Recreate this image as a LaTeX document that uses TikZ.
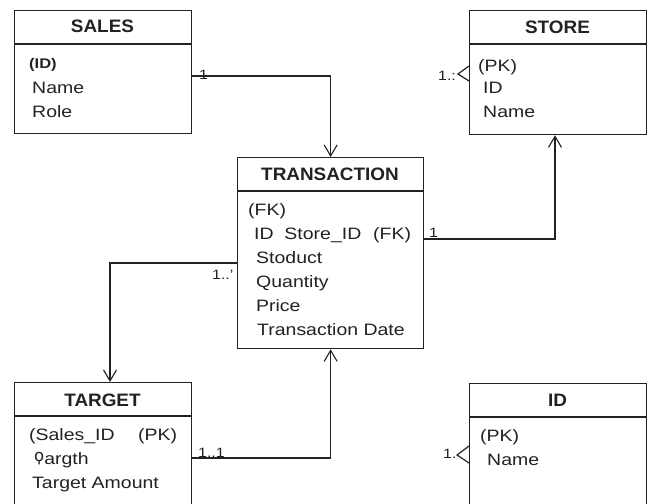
\documentclass[tikz,border=0pt]{standalone}
\usepackage{fontspec}
\setmainfont{Liberation Sans}[FakeStretch=1.18]
\newfontfamily\titlefont{Liberation Sans}[FakeStretch=1.05]
\newfontfamily\koppafont{DejaVu Sans}
\usetikzlibrary{arrows.meta}
\definecolor{ink}{HTML}{222222}
\tikzset{
  ent/.style={draw=ink, line width=1.3pt, anchor=north west, inner sep=0pt, minimum width=177pt},
  ttl/.style={font=\titlefont\fontsize{18}{18}\selectfont\bfseries, anchor=base, inner sep=0pt, text=ink},
  att/.style={font=\fontsize{16.5}{17}\selectfont, anchor=base west, inner sep=0pt, text=ink},
  keyb/.style={font=\fontsize{14}{14}\selectfont\bfseries, anchor=base west, inner sep=0pt, text=ink},
  card/.style={font=\fontsize{13.5}{14}\selectfont, anchor=base west, inner sep=0pt, text=ink},
  rel/.style={line width=1.2pt, draw=ink},
  arr/.style={rel, -{Straight Barb[length=11pt,width=13pt,line width=1.1pt]}}
}
\begin{document}
\begin{tikzpicture}[x=1pt,y=-1pt]
\useasboundingbox (0,0) rectangle (650,503);
\clip (0,0) rectangle (650,503);
\fill[white] (0,0) rectangle (650,503);

% entity boxes
\node[ent, minimum height=123pt] (sales) at (14,10) {};
\node[ent, minimum height=124pt] (store) at (469,10) {};
\node[ent, minimum width=186pt, minimum height=191pt] (trans) at (237,157) {};
\node[ent, minimum height=140pt] (target) at (14,382) {};
\node[ent, minimum height=140pt] (idb) at (469,383) {};

% header separators
\draw[rel] (sales.west |- 0,44) -- (sales.east |- 0,44);
\draw[rel] (store.west |- 0,44) -- (store.east |- 0,44);
\draw[rel] (trans.west |- 0,191) -- (trans.east |- 0,191);
\draw[rel] (target.west |- 0,416) -- (target.east |- 0,416);
\draw[rel] (idb.west |- 0,417) -- (idb.east |- 0,417);

% titles
\node[ttl] (salesT) at (102.5,33) {SALES};
\node[ttl] (storeT) at (557.5,34) {STORE};
\node[ttl] (transT) at (330,180) {TRANSACTION};
\node[ttl] (targetT) at (102.5,406) {TARGET};
\node[ttl] (idT) at (557.5,406) {ID};

% SALES attributes
\node[keyb] (s1) at (29,69) {(ID)};
\node[att] (s2) at (32,93) {Name};
\node[att] (s3) at (32,117) {Role};

% STORE attributes
\node[att] (st1) at (478,71) {(PK)};
\node[att] (st2) at (483,93) {ID};
\node[att] (st3) at (483,117) {Name};

% TRANSACTION attributes
\node[att] (t1) at (248,215) {(FK)};
\node[att] (t2) at (254,239) {ID\ \ Store\_ID};
\node[att] (t2b) at (373,239) {(FK)};
\node[att] (t3) at (256,263) {Stoduct};
\node[att] (t4) at (256,287) {Quantity};
\node[att] (t5) at (256,311) {Price};
\node[att] (t6) at (257,335) {Transaction Date};

% TARGET attributes
\node[att] (g1) at (29,440) {(Sales\_ID};
\node[att] (g1b) at (138,440) {(PK)};
\node[att] (g2) at (34,464) {{\koppafont\raisebox{0.18em}{ϙ}}argth};
\node[att] (g3) at (32,488) {Target Amount};

% ID attributes
\node[att] (i1) at (480,441) {(PK)};
\node[att] (i2) at (487,465) {Name};

% connectors
\draw[arr] (sales.east |- 0,76) -| (trans.north);
\draw[arr] (trans.east |- 0,239) -| (555,0 |- store.south);
\draw[arr] (trans.west |- 0,263) -| (110,0 |- target.north);
\draw[arr] (target.east |- 0,458) -| (trans.south);

% crow's feet
\coordinate (cfs) at (458,74);
\draw[rel] (store.west |- 0,66) -- (cfs) -- (store.west |- 0,81);
\coordinate (cfi) at (457,455);
\draw[rel] (idb.west |- 0,446) -- (cfi) -- (idb.west |- 0,463);

% cardinality labels
\node[card] (c1) at (199,79) {1};
\node[card] (c2) at (429,237) {1};
\node[card] (c3) at (212,279) {1..'};
\node[card] (c4) at (198,457) {1..1};
\node[card] (c5) at (438,80) {1.:};
\node[card] (c6) at (443,458) {1.};
\end{tikzpicture}
\end{document}
